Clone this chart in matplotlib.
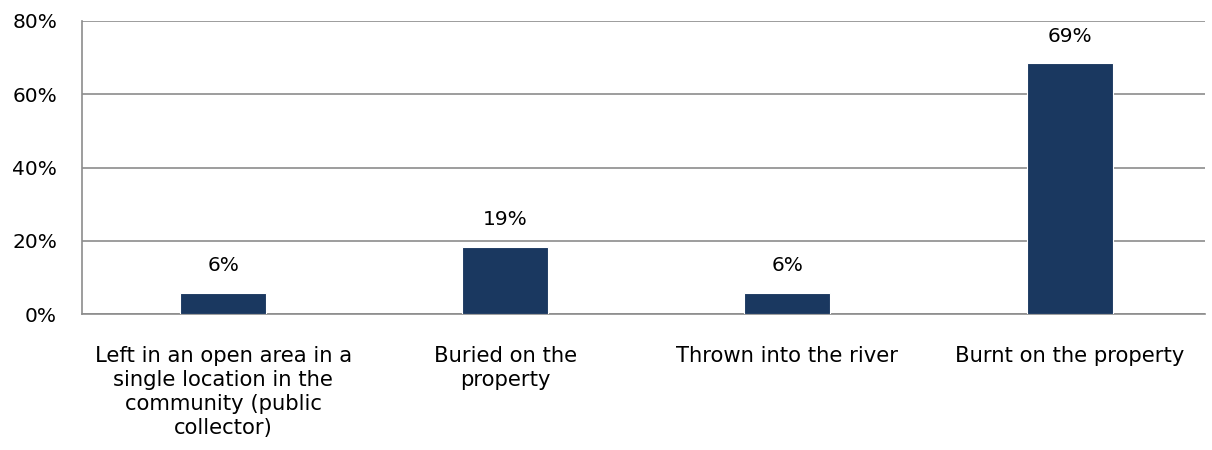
import matplotlib
matplotlib.use("Agg")
import matplotlib.pyplot as plt
from matplotlib.ticker import FuncFormatter

categories = [
    "Left in an open area in a\nsingle location in the\ncommunity (public\ncollector)",
    "Buried on the\nproperty",
    "Thrown into the river",
    "Burnt on the property",
]
values = [5.8, 18.4, 5.8, 68.5]
value_labels = ["6%", "19%", "6%", "69%"]
yticks = [0, 20, 40, 60, 80]

plt.rcParams['font.family'] = ['DejaVu Sans']
FS = 14.5

fig = plt.figure(figsize=(12.12, 4.5), dpi=100)
ax = fig.add_axes([82/1212, 1 - 314/450, (1205-82)/1212, (314-21)/450])

x = range(len(categories))
bars = ax.bar(x, values, width=0.305, color="#1A3860", edgecolor="white", linewidth=0.8, zorder=3)

for xi, v, lab in zip(x, values, value_labels):
    ax.annotate(lab, (xi, v), xytext=(0, 12.5), textcoords="offset points",
                ha="center", va="bottom", fontsize=FS, color="black")

ax.set_xlim(-0.5, len(categories) - 0.52)
ax.set_ylim(0, 80)
ax.set_yticks(yticks)
ax.yaxis.set_major_formatter(FuncFormatter(lambda v, p: f"{int(v)}%"))
ax.set_xticks(list(x))
ax.set_xticklabels(categories, fontsize=15.2, linespacing=1.26)
ax.tick_params(axis='y', length=0, labelsize=FS, pad=18)
ax.tick_params(axis='x', length=0, pad=23)
for lab in ax.get_xticklabels():
    lab.set_va("top")
    lab.set_ha("center")

ax.grid(axis='y', color="#8C8C8C", linewidth=1.2, zorder=0)
for s in ["top", "right"]:
    ax.spines[s].set_visible(False)
for s in ["left", "bottom"]:
    ax.spines[s].set_color("#8C8C8C")
    ax.spines[s].set_linewidth(1.2)

fig.savefig("out.png", dpi=100, facecolor="white")
